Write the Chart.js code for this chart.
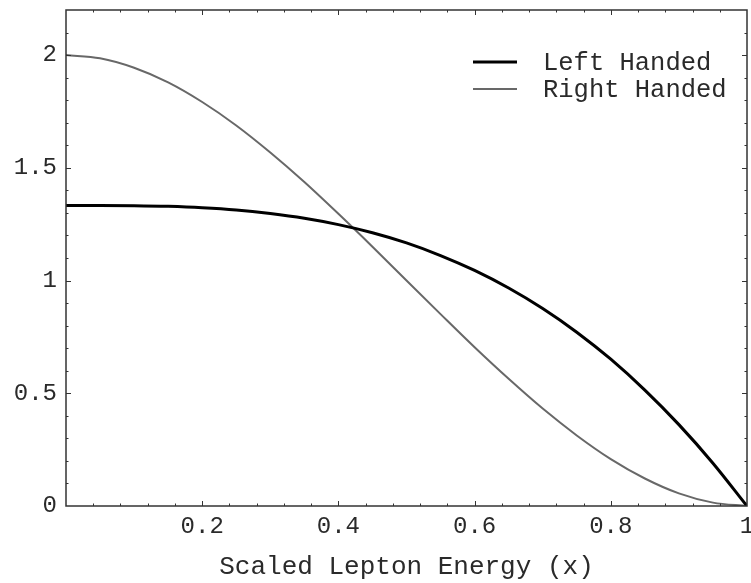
<!DOCTYPE html>
<html>
<head>
<meta charset="utf-8">
<script src="https://cdn.jsdelivr.net/npm/chart.js@4/dist/chart.umd.min.js"></script>
<style>
  html, body { margin: 0; padding: 0; background: #fff; }
  canvas { display: block; }
</style>
</head>
<body>
<canvas id="spectrum" width="751" height="583"></canvas>
<script>
// Scaled lepton energy x, sampled every 0.05
const energies = [0, 0.05, 0.1, 0.15, 0.2, 0.25, 0.3, 0.35, 0.4, 0.45, 0.5,
                  0.55, 0.6, 0.65, 0.7, 0.75, 0.8, 0.85, 0.9, 0.95, 1];
const leftHanded = [1.333, 1.333, 1.332, 1.329, 1.323, 1.313, 1.297, 1.276, 1.248, 1.212, 1.167,
                    1.111, 1.045, 0.967, 0.876, 0.771, 0.651, 0.514, 0.361, 0.19, 0];
const rightHanded = [2, 1.986, 1.944, 1.879, 1.792, 1.688, 1.568, 1.437, 1.296, 1.15, 1.0,
                     0.851, 0.704, 0.564, 0.432, 0.313, 0.208, 0.122, 0.056, 0.015, 0];
const xMajor = [0.2, 0.4, 0.6, 0.8, 1];
const yMajor = [0, 0.5, 1, 1.5, 2];

const FONT = '"Liberation Mono", "Courier New", monospace';
const INK = '#2a2a2a';

const toPoints = ys => ys.map((y, i) => ({ x: energies[i], y: y }));

// frame with inward ticks (major + minor) on all four sides
const framePlugin = {
  id: 'frame',
  afterDatasetsDraw(chart) {
    const { ctx, chartArea: a, scales } = chart;
    const xs = scales.x, ys = scales.y;
    ctx.save();
    ctx.strokeStyle = '#333';
    ctx.lineWidth = 1;
    for (let i = 1; i < 25; i++) {
      const v = i * 0.04;
      const px = Math.round(xs.getPixelForValue(v)) + 0.5;
      const len = (i % 5 === 0) ? 5 : 2.5;
      ctx.beginPath();
      ctx.moveTo(px, a.bottom); ctx.lineTo(px, a.bottom - len);
      ctx.moveTo(px, a.top); ctx.lineTo(px, a.top + len);
      ctx.stroke();
    }
    for (let i = 1; i < 22; i++) {
      const v = i * 0.1;
      const py = Math.round(ys.getPixelForValue(v)) + 0.5;
      const len = (i % 5 === 0) ? 5 : 2.5;
      ctx.beginPath();
      ctx.moveTo(a.left, py); ctx.lineTo(a.left + len, py);
      ctx.moveTo(a.right, py); ctx.lineTo(a.right - len, py);
      ctx.stroke();
    }
    ctx.lineWidth = 1.5;
    ctx.strokeRect(a.left, a.top, a.right - a.left, a.bottom - a.top);
    ctx.restore();
  }
};

// legend drawn inside the plot, top right
const legendPlugin = {
  id: 'innerLegend',
  afterDraw(chart) {
    const { ctx, chartArea: a } = chart;
    ctx.save();
    ctx.font = '25.5px ' + FONT;
    ctx.textBaseline = 'middle';
    ctx.fillStyle = INK;
    chart.data.datasets.forEach((ds, i) => {
      const y = a.top + 52 + i * 27;
      ctx.strokeStyle = ds.borderColor;
      ctx.lineWidth = ds.borderWidth;
      ctx.beginPath();
      ctx.moveTo(a.right - 274, y);
      ctx.lineTo(a.right - 230, y);
      ctx.stroke();
      ctx.fillText(ds.label, a.right - 204, y + 1);
    });
    ctx.restore();
  }
};

new Chart(document.getElementById('spectrum'), {
  type: 'line',
  data: {
    datasets: [
      {
        label: 'Left Handed',
        data: toPoints(leftHanded),
        borderColor: '#000',
        borderWidth: 3,
        pointRadius: 0,
        cubicInterpolationMode: 'monotone'
      },
      {
        label: 'Right Handed',
        data: toPoints(rightHanded),
        borderColor: '#686868',
        borderWidth: 2,
        pointRadius: 0,
        cubicInterpolationMode: 'monotone'
      }
    ]
  },
  options: {
    responsive: false,
    animation: false,
    layout: { padding: { top: 10, right: 4, left: 0, bottom: 0 } },
    plugins: {
      legend: { display: false },
      tooltip: { enabled: false }
    },
    scales: {
      x: {
        type: 'linear',
        min: 0,
        max: 1,
        afterBuildTicks: s => { s.ticks = xMajor.map(v => ({ value: v })); },
        afterFit: s => { s.height = 77; s.paddingLeft = 0; s.paddingRight = 0; },
        grid: { display: false, drawTicks: false, tickLength: 0 },
        border: { display: false },
        ticks: {
          padding: 6,
          maxRotation: 0,
          autoSkip: false,
          color: INK,
          font: { family: FONT, size: 24 },
          callback: v => String(+v.toFixed(1))
        },
        title: {
          display: true,
          text: 'Scaled Lepton Energy (x)',
          color: INK,
          padding: { top: 0, bottom: 0 },
          font: { family: FONT, size: 26 }
        }
      },
      y: {
        min: 0,
        max: 2.2,
        afterBuildTicks: s => { s.ticks = yMajor.map(v => ({ value: v })); },
        afterFit: s => { s.width = 66; s.paddingTop = 0; s.paddingBottom = 0; },
        grid: { display: false, drawTicks: false, tickLength: 0 },
        border: { display: false },
        ticks: {
          padding: 9,
          autoSkip: false,
          color: INK,
          font: { family: FONT, size: 24 },
          callback: v => String(+v.toFixed(1))
        }
      }
    }
  },
  plugins: [framePlugin, legendPlugin]
});
</script>
</body>
</html>
